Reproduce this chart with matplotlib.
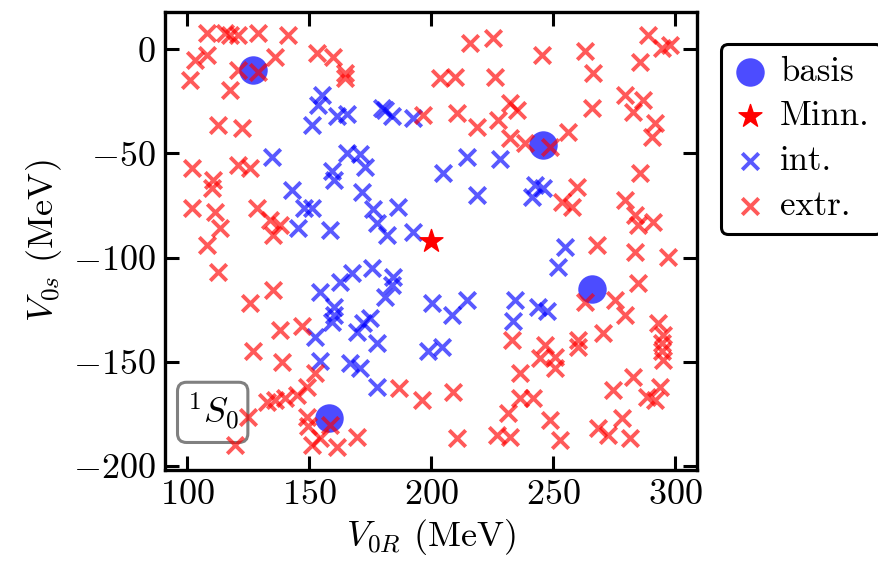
import numpy as np
import matplotlib.pyplot as plt

plt.rcParams['font.family'] = 'serif'
plt.rcParams['font.serif'] = ['cmr10']
plt.rcParams['mathtext.fontset'] = 'cm'
plt.rcParams['axes.formatter.use_mathtext'] = True

# basis points and Minnesota point
basis_x = [127, 246, 266, 158]
basis_y = [-10, -46, -115, -177]
minn_x = [200]
minn_y = [-92]

# interpolation samples (blue)
int_x = [155.3, 153.7, 151, 161.5, 165.6, 180, 181, 184, 192.6, 134.8,
         165.6, 171, 173, 159.4, 160, 143, 148, 151, 171.7, 176, 186.5,
         145.5, 158.6, 178, 182, 192.6,
         154.5, 160, 160, 159.4, 162.7, 167.6, 175.8, 184.4, 184, 181,
         152.5, 169.7, 172, 175, 177.9, 154.5, 166.8, 171, 178,
         205, 214.8, 228.3, 219, 242.6, 246, 241.4, 255, 252,
         200.4, 208.6, 214.8, 234.4, 233.6, 243.8, 247.5, 198.8, 204.5]
int_y = [-22, -26.9, -36.5, -32, -31, -28, -29, -32, -33, -51.8,
         -50, -50.4, -56.6, -58.5, -62.8, -67.6, -76, -76, -68.6, -76.7, -75.8,
         -86, -86.8, -83.5, -89, -87.8,
         -116.5, -123.8, -127.6, -131, -111.8, -107.4, -105, -109.4, -113, -118.9,
         -138, -135.7, -131.4, -129, -141, -149.6, -150.6, -153, -162,
         -59.5, -51.8, -52.8, -70, -65, -66.7, -71, -95, -104.6,
         -121.8, -127.6, -120.4, -120.4, -130.5, -123.7, -125.7, -145, -143]

# extrapolation samples (red)
ext_x = [108.2, 115.6, 117.6, 121, 129, 141.4, 103.3, 108.2, 101.2, 121, 129,
         136, 117.6, 153.3, 159.8, 164.8, 164.8, 112.7, 122.5, 196.7,
         102, 121, 125.8, 110.6, 110.2, 102, 111.5, 128.7, 134, 138, 113.5,
         108.2, 135, 112.7, 125.8, 135.2, 138, 147, 127, 139,
         152.5, 149, 145, 140, 136, 132.8, 125, 119.7, 149, 149.6, 158.6,
         151, 154.5, 161.5, 169.7, 187, 196.3,
         216, 225.4, 245.5, 263, 289, 294.7, 298, 285.7, 203.7, 209.8, 226,
         266.4, 232.4, 235, 266, 279.5, 287, 282.8, 291.8, 290.6, 210.6,
         218.9, 227.5, 232.4, 238.5, 248.8, 256, 285.7, 259.8, 253.7, 257.8,
         279.5, 283.6, 291, 284.8,
         268, 283.6, 297, 284.8, 263, 275.4, 279.5, 270.5, 293, 295, 294.7,
         294.7, 295, 233, 260, 260, 246.7, 244.7, 250.8, 250.8, 236.5, 209,
         274.6, 282.8, 293.9, 288.5, 291.8, 236.5, 241.8, 231.6, 248.8, 278.3,
         227, 232.4, 210.6, 252.8, 268.4, 272.5, 281.5]
ext_y = [7.7, 7.7, 6.7, 6.7, 7.7, 6.7, -5.3, -2.9, -14.9, -10, -11,
         -3.8, -19.7, -1.9, -3.8, -11.5, -14, -36.5, -37.9, -31.7,
         -57, -55.6, -57, -62.8, -66.7, -76.3, -78.2, -76.3, -82, -84.4, -86,
         -94, -89, -107, -121.8, -115.6, -134.8, -133, -145, -150,
         -155.4, -162, -166, -167.4, -168.3, -169.3, -176.5, -190, -176.5, -181, -180.3,
         -190, -186.6, -191, -186, -162.6, -168.3,
         2.9, 5.3, -2.9, -1, 6.7, 0.5, 1.9, -6.2, -14, -13.4, -13.4,
         -11.5, -26, -29, -28.3, -22, -24.5, -30, -35.5, -42, -30.7,
         -37.4, -34, -42.7, -45, -47, -39.8, -59.5, -66.2, -73.4, -75.8,
         -72.4, -79.6, -83, -84.4,
         -94, -97.4, -99.8, -112.2, -121.3, -120.4, -127.6, -136, -131.4, -137, -141,
         -145, -149, -139.6, -139.6, -143, -142, -148, -147.7, -153, -155.4, -164.5,
         -163.5, -157.3, -162, -167, -168.3, -167.4, -167.4, -174.6, -178, -177,
         -185, -186, -186.6, -187.5, -181.8, -185, -186.6]

fig = plt.figure(figsize=(8.79, 5.61), dpi=100)
ax = fig.add_axes([0.188, 0.162, 0.605, 0.817])

ax.scatter(basis_x, basis_y, s=420, color='blue', alpha=0.7, lw=0, label='basis', zorder=2)
ax.scatter(minn_x, minn_y, s=300, marker='*', color='red', label='Minn.', zorder=5)
ax.scatter(int_x, int_y, s=140, marker='x', color='blue', alpha=0.65, linewidths=2.8, label='int.', zorder=3)
ax.scatter(ext_x, ext_y, s=140, marker='x', color='red', alpha=0.65, linewidths=2.8, label='extr.', zorder=4)

ax.set_xlim(91, 309)
ax.set_ylim(-202, 18)
ax.set_xticks([100, 150, 200, 250, 300])
ax.set_yticks([0, -50, -100, -150, -200])
ax.tick_params(direction='in', top=True, right=True, length=10, width=2.2, labelsize=26, pad=7)
for s in ax.spines.values():
    s.set_linewidth(2.4)

ax.set_xlabel(r'$V_{0R}$ (MeV)', fontsize=26, labelpad=4)
ax.set_ylabel(r'$V_{0s}$ (MeV)', fontsize=26, labelpad=6)

ax.text(0.04, 0.08, r'$^1S_0$', transform=ax.transAxes, fontsize=26, ha='left', va='bottom',
        bbox=dict(boxstyle='round,pad=0.25', fc='white', ec='gray', lw=2.2))

leg = ax.legend(loc='upper left', bbox_to_anchor=(1.045, 0.93), fontsize=25, frameon=True,
                fancybox=True, edgecolor='black', framealpha=1, handletextpad=0.35,
                handlelength=1.0, borderpad=0.35, labelspacing=0.38, borderaxespad=0)
leg.get_frame().set_linewidth(2.2)

fig.savefig('out.png', dpi=100)
